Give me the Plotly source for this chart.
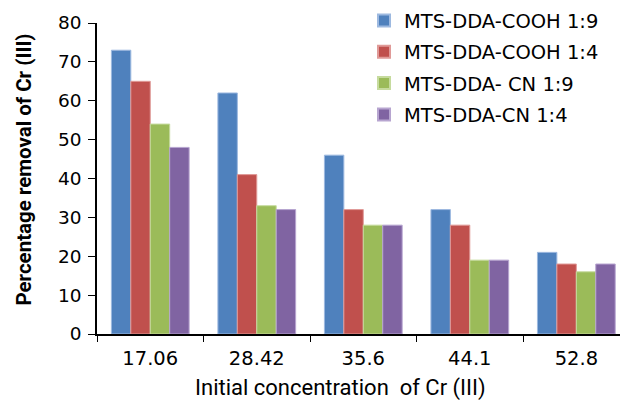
import plotly.graph_objects as go

categories = ["17.06", "28.42", "35.6", "44.1", "52.8"]
series_names = ["MTS-DDA-COOH 1:9", "MTS-DDA-COOH 1:4", "MTS-DDA- CN 1:9", "MTS-DDA-CN 1:4"]
cooh_19 = [73, 62, 46, 32, 21]
cooh_14 = [65, 41, 32, 28, 18]
cn_19 = [54, 33, 28, 19, 16]
cn_14 = [48, 32, 28, 19, 18]
y_ticks = [0, 10, 20, 30, 40, 50, 60, 70, 80]
x_title = "Initial concentration  of Cr (III)"
y_title = "Percentage removal of Cr (III)"

colors = ["#4F81BD", "#C0504D", "#9BBB59", "#8064A2"]
edge = ["#9DB9E0", "#E09A98", "#C6DB9E", "#B7A5D0"]

fig = go.Figure()
for i, (name, vals) in enumerate(zip(series_names, [cooh_19, cooh_14, cn_19, cn_14])):
    fig.add_trace(go.Bar(
        x=categories, y=vals, name=name, legendgroup=f"g{i}",
        marker=dict(color=colors[i], line=dict(color=edge[i], width=1)),
    ))

L, R, T, B = 97, 620, 20, 334
W, H = R - L, B - T

fig.update_layout(
    width=621, height=401,
    margin=dict(l=L, r=621 - R, t=T, b=401 - B),
    paper_bgcolor="white", plot_bgcolor="white",
    barmode="group", bargap=0.27, bargroupgap=0,
    showlegend=True,
    legend=dict(x=(364 - L) / W, xref="paper", y=1.07, yanchor="top", xanchor="left",
                font=dict(family="DejaVu Sans", size=19.5, color="black"),
                tracegroupgap=3, bgcolor="rgba(0,0,0,0)", itemsizing="constant"),
    xaxis=dict(
        type="category", range=[-0.5, 4.41], tickson="boundaries",
        ticks="outside", ticklen=6, tickcolor="black",
        showline=True, linecolor="black", linewidth=1.5,
        tickfont=dict(family="DejaVu Sans", size=19.5, color="black"),
        ticklabelstandoff=6,
    ),
    yaxis=dict(
        range=[0, 80], tickvals=y_ticks, ticks="outside", ticklen=7, tickcolor="black",
        showline=True, linecolor="black", linewidth=1.5, showgrid=False, zeroline=False,
        tickfont=dict(family="DejaVu Sans", size=18.5, color="black"),
        ticklabelstandoff=3,
    ),
    annotations=[
        dict(text=x_title, xref="paper", yref="paper",
             x=(340 - L) / W, y=(B - 389) / H, xanchor="center", yanchor="middle",
             showarrow=False, font=dict(family="Roboto", size=22, color="black")),
        dict(text="<b>" + y_title + "</b>", xref="paper", yref="paper", textangle=-90,
             x=(24 - L) / W, y=(B - 168) / H, xanchor="center", yanchor="middle",
             showarrow=False, font=dict(family="Roboto", size=20.5, color="black")),
    ],
)
fig.write_html("out.html")
